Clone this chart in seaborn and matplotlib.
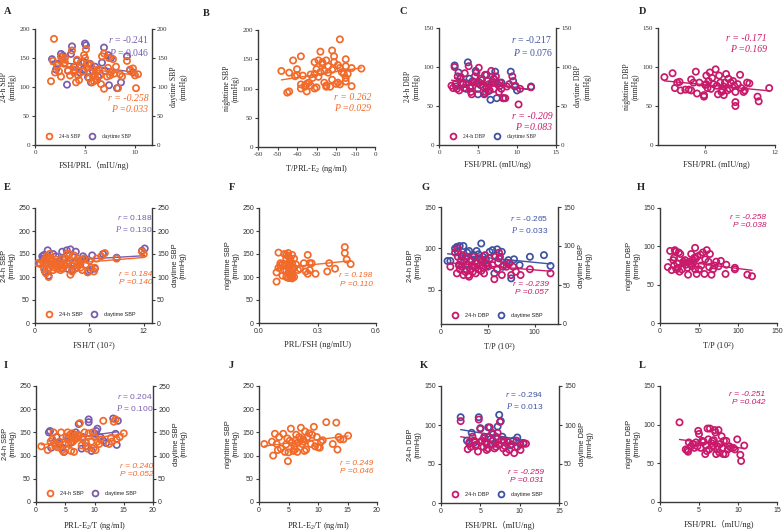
import numpy as np
import pandas as pd
import seaborn as sns
import matplotlib
matplotlib.use("Agg")
import matplotlib.pyplot as plt
from matplotlib.lines import Line2D

sns.set_theme(style="white")
plt.rcParams['font.family'] = ['Liberation Serif', 'Noto Sans CJK SC']
plt.rcParams['mathtext.fontset'] = 'custom'
plt.rcParams['mathtext.rm'] = 'Liberation Serif'
plt.rcParams['mathtext.it'] = 'Liberation Serif:italic'
plt.rcParams['axes.unicode_minus'] = False

ORANGE = '#F26A2A'
PURPLE = '#7A5CAF'
MAGENTA = '#C8196B'
BLUE = '#3E52A3'

# ---------------- data (x, y) ----------------
A_24h = [(1.9,183),(1.6,110),(1.8,145),(2.0,125),(2.2,137),(2.6,118),(2.6,152),(2.8,148),(2.9,140),(3.0,150),(3.3,128),(3.5,120),(3.7,163),(3.9,130),(3.9,125),(4.1,108),(4.2,147),(4.3,120),(4.4,112),(4.6,143),(4.8,127),(4.9,155),(5.0,150),(5.1,165),(5.2,133),(5.4,115),(5.5,125),(5.6,138),(5.7,108),(5.8,118),(5.9,110),(6.0,122),(6.1,113),(6.4,130),(6.5,120),(6.6,105),(6.7,153),(6.9,158),(6.9,97),(7.2,118),(7.3,133),(7.4,150),(7.5,120),(7.6,125),(7.8,148),(7.9,123),(8.1,135),(8.3,98),(8.5,122),(8.7,118),(9.2,145),(9.5,130),(9.8,132),(10.0,120),(10.1,98),(10.3,122),(3.0,142),(2.4,127),(4.0,135),(5.3,140),(6.2,128)]
A_day = [(1.7,148),(2.6,157),(2.8,154),(3.2,104),(3.6,157),(3.7,170),(3.9,135),(4.2,145),(4.5,125),(4.8,130),(5.0,175),(5.1,172),(5.3,117),(5.5,140),(5.8,127),(6.0,135),(6.3,118),(6.7,142),(6.9,168),(7.3,155),(7.4,103),(7.6,150),(8.2,98),(8.6,108),(9.2,153),(9.5,129),(9.8,125),(2.3,140),(4.0,128),(5.6,108),(6.2,112),(7.0,128),(3.3,128),(4.9,143),(2.1,130)]
B_night = [(-48,130),(-45,93),(-44,95),(-44,127),(-42,148),(-41,121),(-40,133),(-40,123),(-38,155),(-38,107),(-38,100),(-37,122),(-36,105),(-36,103),(-35,95),(-35,108),(-34,110),(-33,105),(-33,124),(-32,118),(-31,100),(-31,125),(-31,145),(-30,102),(-30,133),(-29,148),(-28,128),(-28,163),(-27,145),(-27,142),(-26,110),(-26,130),(-25,103),(-25,105),(-25,148),(-24,127),(-24,138),(-23,103),(-22,115),(-22,132),(-22,165),(-21,155),(-21,145),(-19,140),(-19,110),(-18,184),(-18,135),(-18,107),(-17,128),(-16,125),(-15,150),(-15,138),(-15,118),(-15,112),(-14,125),(-12,135),(-12,104),(-7,134),(-20,108),(-29,120)]
C_24h = [(1.6,76),(1.8,73),(2.0,100),(2.1,78),(2.3,72),(2.6,70),(2.7,85),(3.0,80),(3.2,73),(3.5,78),(3.8,101),(4.0,75),(4.1,68),(4.2,65),(4.4,80),(4.6,88),(4.8,93),(5.0,72),(5.1,99),(5.2,80),(5.4,85),(5.6,75),(5.8,65),(6.0,68),(6.2,82),(6.4,78),(6.7,95),(6.9,80),(7.0,72),(7.3,88),(7.5,78),(7.8,80),(8.0,72),(8.2,60),(8.5,60),(9.0,78),(9.4,88),(9.8,76),(10.2,52),(10.4,72),(11.8,74),(3.3,92),(4.9,80),(5.9,90),(6.5,70),(7.1,84),(8.7,75),(2.4,88),(6.1,73),(7.7,68)]
C_day = [(2.0,102),(2.5,93),(2.8,87),(3.7,106),(3.9,85),(4.3,82),(4.7,95),(5.0,65),(5.5,83),(5.9,66),(6.1,90),(6.6,58),(6.8,80),(7.2,94),(7.4,60),(7.8,76),(8.3,60),(9.2,94),(9.5,82),(10.0,70),(11.8,75),(2.2,75),(3.1,78),(4.0,73),(5.3,77),(6.3,69),(7.0,85),(8.0,80),(9.7,75),(3.5,72)]
D_night = [(2.5,87),(3.2,92),(3.4,73),(3.6,80),(3.8,81),(3.9,70),(4.3,71),(4.6,71),(4.8,84),(4.8,70),(5.0,80),(5.2,94),(5.3,66),(5.5,80),(5.9,62),(5.9,64),(6.0,77),(6.1,78),(6.1,89),(6.2,73),(6.3,82),(6.4,93),(6.5,72),(6.7,78),(6.9,97),(7.0,76),(7.1,65),(7.2,89),(7.3,80),(7.5,70),(7.6,64),(7.6,75),(7.7,80),(7.8,91),(7.9,70),(8.0,85),(8.1,72),(8.2,80),(8.4,82),(8.5,76),(8.6,55),(8.6,50),(8.6,68),(8.8,78),(9.0,90),(9.1,73),(9.3,68),(9.4,70),(9.6,80),(9.8,79),(10.5,62),(10.6,56),(11.5,73),(7.4,68),(6.6,86)]
E_24h = [(0.3,130),(0.6,128),(0.9,132),(1.0,117),(1.1,138),(1.2,125),(1.3,145),(1.4,135),(1.5,100),(1.5,118),(1.6,150),(1.7,142),(1.8,125),(1.9,135),(2.0,115),(2.1,128),(2.2,120),(2.3,138),(2.4,122),(2.5,118),(2.6,125),(2.7,130),(2.8,115),(2.9,120),(3.0,140),(3.1,118),(3.2,128),(3.3,125),(3.4,140),(3.5,150),(3.6,128),(3.7,135),(3.9,105),(4.0,125),(4.1,112),(4.3,147),(4.4,118),(4.6,132),(4.7,140),(4.8,125),(4.9,130),(5.0,120),(5.1,137),(5.2,115),(5.4,140),(5.6,127),(5.8,110),(6.0,135),(6.2,120),(6.5,112),(6.6,120),(6.8,140),(7.3,145),(7.7,152),(9.0,140),(11.8,155),(12.0,150),(3.8,150),(2.2,133),(1.2,108)]
E_day = [(0.5,130),(0.8,145),(1.0,148),(1.2,140),(1.4,158),(1.5,103),(1.7,135),(2.0,150),(2.5,128),(3.0,155),(3.2,140),(3.5,158),(3.9,160),(4.1,115),(4.5,155),(4.6,120),(4.9,135),(5.0,128),(5.3,145),(5.6,138),(5.9,112),(6.1,115),(6.3,147),(6.6,118),(7.5,150),(9.0,142),(11.8,157),(12.1,162),(2.8,125),(3.6,118),(1.1,112),(2.3,145),(4.3,130),(5.5,140),(0.9,140)]
F_night = [(0.09,110),(0.09,90),(0.10,153),(0.10,120),(0.11,125),(0.11,130),(0.12,103),(0.13,125),(0.13,150),(0.14,140),(0.14,115),(0.14,100),(0.15,152),(0.15,145),(0.15,130),(0.15,108),(0.15,120),(0.16,140),(0.16,135),(0.16,125),(0.16,115),(0.16,98),(0.17,148),(0.17,130),(0.17,110),(0.17,103),(0.17,97),(0.18,140),(0.18,120),(0.18,100),(0.14,148),(0.15,98),(0.16,105),(0.17,118),(0.13,113),(0.20,115),(0.21,118),(0.23,130),(0.24,112),(0.25,148),(0.25,107),(0.26,130),(0.26,115),(0.27,130),(0.29,107),(0.35,112),(0.36,130),(0.39,118),(0.44,165),(0.44,152),(0.45,138),(0.47,128),(0.19,127),(0.12,128)]
G_24h = [(10,78),(15,95),(17,70),(18,90),(18,100),(19,80),(20,75),(21,85),(22,78),(24,68),(25,85),(26,72),(27,90),(28,80),(29,68),(30,66),(31,75),(32,85),(33,80),(34,72),(35,90),(36,78),(38,82),(40,75),(41,88),(42,80),(43,73),(44,85),(45,77),(46,70),(48,82),(50,78),(52,88),(55,80),(57,63),(58,90),(60,75),(61,83),(63,90),(65,68),(67,80),(70,78),(73,82),(75,68),(77,78),(80,72),(85,68),(95,75),(117,70),(23,92),(37,70),(47,92),(62,95)]
G_day = [(7,85),(10,85),(15,100),(17,102),(18,96),(20,103),(22,90),(24,103),(26,88),(28,95),(30,97),(33,85),(35,92),(38,97),(40,93),(42,88),(43,106),(45,90),(48,87),(52,96),(55,98),(57,70),(60,99),(62,88),(65,96),(70,83),(72,86),(75,64),(78,87),(84,80),(95,90),(110,92),(117,79),(27,75),(37,85),(50,80),(66,78),(20,80)]
H_night = [(10,73),(13,94),(15,69),(17,82),(18,75),(18,85),(19,95),(20,93),(21,70),(22,78),(23,72),(24,92),(25,67),(26,90),(28,70),(30,80),(32,82),(33,76),(35,72),(36,63),(38,80),(39,77),(40,90),(41,74),(42,82),(43,79),(44,85),(45,98),(45,70),(46,84),(47,64),(48,87),(50,70),(52,89),(55,92),(57,64),(58,83),(60,95),(62,80),(63,73),(64,90),(66,63),(68,70),(70,75),(72,80),(75,74),(78,81),(84,64),(85,76),(96,72),(96,70),(112,63),(118,61),(31,78),(53,75)]
I_24h = [(0.9,120),(2.0,112),(2.5,130),(2.8,135),(3.0,150),(3.5,125),(3.7,118),(4.0,130),(4.3,150),(4.5,112),(4.7,108),(5.0,125),(5.2,140),(5.4,150),(5.5,135),(5.8,145),(6.0,110),(6.2,148),(6.3,130),(6.5,108),(6.8,140),(7.0,138),(7.2,145),(7.5,170),(7.8,122),(8.0,135),(8.3,150),(8.5,128),(8.8,115),(9.0,148),(9.5,130),(9.8,115),(10.0,140),(10.2,112),(10.5,130),(10.8,125),(11.0,135),(11.5,175),(12.5,125),(13.0,130),(13.3,173),(13.6,178),(13.8,135),(14.3,140),(15.0,148),(6.7,135),(5.6,125),(8.7,120),(9.7,150),(3.3,120),(12.8,138),(7.3,142)]
I_day = [(2.2,150),(2.4,153),(2.6,117),(4.5,117),(4.8,108),(6.5,145),(7.3,168),(8.0,140),(8.5,120),(9.0,178),(9.0,172),(10.0,148),(10.3,153),(10.5,158),(11.0,140),(13.2,180),(13.6,147),(13.8,123),(14.0,175),(5.5,138),(6.0,128),(3.5,140),(12.0,127),(7.8,115),(11.5,132),(4.0,125),(9.5,110),(6.8,150)]
J_night = [(0.9,125),(2.2,130),(2.4,100),(2.7,147),(3.0,125),(3.2,112),(3.4,140),(3.7,115),(4.1,147),(4.4,108),(4.6,124),(4.8,137),(4.9,88),(5.0,107),(5.2,132),(5.4,158),(5.6,128),(5.8,110),(6.0,120),(6.2,133),(6.3,145),(6.5,108),(6.6,128),(6.8,140),(7.0,135),(7.1,160),(7.3,125),(7.5,135),(7.7,110),(7.8,152),(8.0,113),(8.2,140),(8.5,148),(8.8,125),(9.0,145),(9.3,162),(9.5,120),(9.8,140),(10.0,118),(10.3,117),(10.5,130),(10.8,133),(11.4,172),(12.5,125),(13.1,171),(13.3,113),(13.5,140),(13.8,135),(14.3,135),(15.1,143),(6.1,113),(7.6,130)]
K_24h = [(2.5,105),(3.4,69),(3.6,78),(3.8,72),(4.0,85),(4.2,80),(4.5,75),(4.7,66),(4.8,107),(5.0,95),(5.2,80),(5.4,72),(5.6,78),(5.8,68),(6.0,85),(6.2,97),(6.4,75),(6.6,80),(6.8,70),(7.0,85),(7.2,90),(7.4,75),(7.5,104),(7.7,80),(7.9,70),(8.1,73),(8.3,65),(8.5,78),(8.7,68),(9.0,75),(9.3,64),(9.6,80),(10.1,68),(10.5,76),(10.8,76),(6.0,70),(7.0,72),(5.5,85),(8.0,80),(6.5,90),(4.4,73),(9.7,72)]
K_day = [(2.5,110),(3.3,80),(3.9,90),(4.8,110),(5.0,96),(5.5,83),(6.0,97),(6.3,82),(6.9,76),(7.2,98),(7.4,113),(7.6,105),(8.0,80),(8.5,78),(9.2,80),(9.7,84),(10.5,77),(4.3,78),(5.8,75),(7.8,85),(6.6,88),(3.6,76),(8.8,74),(10.1,75)]
L_night = [(2.5,103),(3.3,68),(3.5,67),(3.6,65),(3.7,77),(4.0,72),(4.2,75),(4.4,70),(4.6,77),(4.8,72),(4.9,92),(5.0,88),(5.2,70),(5.4,79),(5.6,78),(5.8,62),(5.9,73),(6.0,66),(6.1,95),(6.2,81),(6.3,68),(6.4,95),(6.6,76),(6.7,79),(6.9,80),(7.0,93),(7.1,90),(7.2,62),(7.3,68),(7.4,72),(7.5,93),(7.6,64),(7.7,75),(7.9,85),(8.0,70),(8.1,62),(8.2,79),(8.4,62),(8.5,79),(8.7,68),(8.9,72),(9.1,70),(9.4,70),(9.6,68),(9.9,81),(10.3,61),(10.4,53),(10.8,73),(6.8,72),(5.5,78)]

W, H = 783, 532
fig = plt.figure(figsize=(W/100, H/100), dpi=100)

SERIF = ['Liberation Serif', 'Noto Sans CJK SC']
SANS = ['Liberation Sans', 'Noto Sans CJK SC']

def px_axes(l, t, r, b):
    return fig.add_axes([l/W, 1 - b/H, (r-l)/W, (b-t)/H])

def draw(ax, data, color, z):
    df = pd.DataFrame(data, columns=['x', 'y'])
    sns.scatterplot(data=df, x='x', y='y', ax=ax, marker='o', s=20,
                    facecolor='none', edgecolor=color, linewidth=1.25, zorder=z)
    sns.regplot(data=df, x='x', y='y', ax=ax, scatter=False, ci=None, truncate=True,
                color=color, line_kws=dict(linewidth=1.0, zorder=z+1))

def style(ax, xlim, xticks, ylim, yticks, xlabel, ylabel, tickfam, ylabfam, right=None, rylim=None, rticks=None):
    serif_row = tickfam is SERIF
    tsz = 5.0 if serif_row else 5.0
    lsz = 5.6 if serif_row else 5.4
    ax.set_xlim(*xlim); ax.set_ylim(*ylim)
    ax.set_xticks(xticks); ax.set_yticks(yticks)
    ax.set_xlabel(xlabel, fontsize=6.0, family=SERIF, labelpad=4)
    ax.set_ylabel(ylabel, fontsize=lsz, family=ylabfam, labelpad=2, linespacing=1.15)
    for s in ['top', 'right']:
        ax.spines[s].set_visible(False)
    for s in ['left', 'bottom']:
        ax.spines[s].set_color('#3a3a3a'); ax.spines[s].set_linewidth(1.0)
    ax.tick_params(axis='both', which='both', direction='out', length=2.5, width=0.8,
                   color='#3a3a3a', labelsize=tsz, pad=1.2, left=True, bottom=True)
    for t in ax.get_xticklabels() + ax.get_yticklabels():
        t.set_family(tickfam); t.set_color('#333333')
    ax.grid(False)
    ax.set_facecolor('white')
    if right is not None:
        ax2 = ax.twinx()
        ax2.set_ylim(*(rylim if rylim else ylim))
        ax2.set_yticks(rticks if rticks is not None else yticks)
        ax2.set_ylabel(right, fontsize=lsz, family=ylabfam, rotation=90, labelpad=2, linespacing=1.15)
        for s in ['top', 'left', 'bottom']:
            ax2.spines[s].set_visible(False)
        ax2.spines['right'].set_color('#3a3a3a'); ax2.spines['right'].set_linewidth(1.0)
        ax2.tick_params(axis='y', direction='out', length=2.5, width=0.8, color='#3a3a3a',
                        labelsize=tsz, pad=1.2, right=True)
        for t in ax2.get_yticklabels():
            t.set_family(tickfam); t.set_color('#333333')
        ax2.grid(False)

def stats(ax, x, y, r, p, color, fam, top):
    size = 7.0 if fam is SERIF else 6.0
    if top:
        txt = f"$r$ = {r}\n$P$ = {p}"
        ax.text(x, y, txt, transform=ax.transAxes, ha='right', va='top', color=color,
                fontsize=size, family=fam, linespacing=1.25)
    else:
        txt = f"r = {r}\nP ={p}"
        ax.text(x, y, txt, transform=ax.transAxes, ha='right', va='top', color=color,
                fontsize=size, family=fam, style='italic', linespacing=1.25)

def legend(ax, c1, l1, c2, l2, fam):
    h = [Line2D([], [], marker='o', ls='none', mfc='none', mec=c1, mew=1.3, ms=4.2),
         Line2D([], [], marker='o', ls='none', mfc='none', mec=c2, mew=1.3, ms=4.2)]
    ax.legend(h, [l1, l2], loc='lower left', bbox_to_anchor=(0.04, 0.02), ncol=2,
              frameon=False, prop=dict(family=fam, size=4.0), handletextpad=0.8,
              columnspacing=1.2, borderaxespad=0.2)

def letter(x, y, s):
    fig.text(x/W, 1 - y/H, s, fontsize=7.5, fontweight='bold', family=SERIF, va='center', ha='left')

# ---------- A ----------
ax = px_axes(35, 29, 152, 145)
draw(ax, A_day, PURPLE, 3); draw(ax, A_24h, ORANGE, 5)
style(ax, (0, 11.7), [0, 5, 10], (0, 200), [0, 50, 100, 150, 200], "FSH/PRL（mIU/ng)",
      "24-h SBP\n(mmHg)", SERIF, SERIF, right="daytime SBP\n(mmHg)")
stats(ax, 0.97, 0.96, "-0.241", "0.046", PURPLE, SERIF, True)
stats(ax, 0.97, 0.44, "-0.258", "0.033", ORANGE, SERIF, False)
legend(ax, ORANGE, "24-h SBP", PURPLE, "daytime SBP", SERIF)
letter(4, 12, "A")

# ---------- B ----------
ax = px_axes(258, 30, 375, 147)
draw(ax, B_night, ORANGE, 5)
style(ax, (-60, 0), [-60, -50, -40, -30, -20, -10, 0], (0, 200), [0, 50, 100, 150, 200],
      "T/PRL-E$_2$ (ng/ml)", "nighttime SBP\n(mmHg)", SERIF, SERIF)
stats(ax, 0.97, 0.46, "0.262", "0.029", ORANGE, SERIF, False)
letter(203, 13, "B")

# ---------- C ----------
ax = px_axes(439, 28, 556, 145)
draw(ax, C_day, BLUE, 3); draw(ax, C_24h, MAGENTA, 5)
style(ax, (0, 15), [0, 5, 10, 15], (0, 150), [0, 50, 100, 150], "FSH/PRL (mIU/ng)",
      "24-h DBP\n(mmHg)", SERIF, SERIF, right="daytime DBP\n(mmHg)")
stats(ax, 0.97, 0.95, "-0.217", "0.076", BLUE, SERIF, True)
stats(ax, 0.97, 0.28, "-0.209", "0.083", MAGENTA, SERIF, False)
legend(ax, MAGENTA, "24-h DBP", BLUE, "daytime SBP", SERIF)
letter(400, 12, "C")

# ---------- D ----------
ax = px_axes(658, 28, 775, 145)
draw(ax, D_night, MAGENTA, 5)
style(ax, (1.95, 12), [6, 12], (0, 150), [0, 50, 100, 150], "FSH/PRL (mIU/ng)",
      "nighttime DBP\n(mmHg)", SERIF, SERIF)
stats(ax, 0.93, 0.95, "-0.171", "0.169", MAGENTA, SERIF, False)
letter(639, 12, "D")

# ---------- E ----------
ax = px_axes(35, 208, 152, 323)
draw(ax, E_day, PURPLE, 3); draw(ax, E_24h, ORANGE, 5)
style(ax, (0, 12.9), [0, 6, 12], (0, 250), [0, 50, 100, 150, 200, 250], "FSH/T (10$^2$)",
      "24-h SBP\n(mmHg)", SANS, SANS, right="daytime SBP\n(mmHg)")
stats(ax, 1.0, 0.96, "0.188", "0.130", PURPLE, SANS, True)
stats(ax, 1.0, 0.45, "0.184", "0.140", ORANGE, SANS, False)
legend(ax, ORANGE, "24-h SBP", PURPLE, "daytime SBP", SANS)
letter(4, 188, "E")

# ---------- F ----------
ax = px_axes(259, 208, 376, 323)
draw(ax, F_night, ORANGE, 5)
style(ax, (0, 0.6), [0.0, 0.3, 0.6], (0, 250), [0, 50, 100, 150, 200, 250],
      "PRL/FSH (ng/mIU)", "nighttime SBP\n(mmHg)", SANS, SANS)
ax.set_xticklabels(["0.0", "0.3", "0.6"], family=SANS)
stats(ax, 0.97, 0.44, "0.198", "0.110", ORANGE, SANS, False)
letter(229, 188, "F")

# ---------- G ----------
ax = px_axes(441, 207, 558, 324)
draw(ax, G_day, BLUE, 3); draw(ax, G_24h, MAGENTA, 5)
style(ax, (0, 125), [0, 50, 100], (9, 150), [50, 100, 150], "T/P (10$^2$)",
      "24-h DBP\n(mmHg)", SANS, SANS, right="daytime DBP\n(mmHg)", rylim=(0, 150), rticks=[0, 50, 100, 150])
stats(ax, 0.92, 0.94, "-0.265", "0.033", BLUE, SANS, True)
stats(ax, 0.92, 0.37, "-0.239", "0.057", MAGENTA, SANS, False)
legend(ax, MAGENTA, "24-h DBP", BLUE, "daytime SBP", SANS)
letter(422, 188, "G")

# ---------- H ----------
ax = px_axes(660, 208, 777, 323)
draw(ax, H_night, MAGENTA, 5)
style(ax, (0, 150), [0, 50, 100, 150], (0, 150), [0, 50, 100, 150], "T/P (10$^2$)",
      "nighttime DBP\n(mmHg)", SANS, SANS)
stats(ax, 0.91, 0.95, "-0.258", "0.038", MAGENTA, SANS, False)
letter(637, 188, "H")

# ---------- I ----------
ax = px_axes(36, 386, 153, 502)
draw(ax, I_day, PURPLE, 3); draw(ax, I_24h, ORANGE, 5)
style(ax, (0, 20), [0, 5, 10, 15, 20], (0, 250), [0, 50, 100, 150, 200, 250],
      "PRL-E$_2$/T (ng/ml)", "24-h SBP\n(mmHg)", SANS, SANS, right="daytime SBP\n(mmHg)")
stats(ax, 1.0, 0.95, "0.204", "0.100", PURPLE, SANS, True)
stats(ax, 1.0, 0.34, "0.240", "0.052", ORANGE, SANS, False)
legend(ax, ORANGE, "24-h SBP", PURPLE, "daytime SBP", SANS)
letter(4, 366, "I")

# ---------- J ----------
ax = px_axes(259, 386, 377, 502)
draw(ax, J_night, ORANGE, 5)
style(ax, (0, 20), [0, 5, 10, 15, 20], (0, 250), [0, 50, 100, 150, 200, 250],
      "PRL-E$_2$/T (ng/ml)", "nighttime SBP\n(mmHg)", SANS, SANS)
stats(ax, 0.97, 0.36, "0.249", "0.046", ORANGE, SANS, False)
letter(229, 366, "J")

# ---------- K ----------
ax = px_axes(441, 386, 559, 503)
draw(ax, K_day, BLUE, 3); draw(ax, K_24h, MAGENTA, 5)
style(ax, (0, 15), [0, 5, 10, 15], (0, 150), [0, 50, 100, 150], "FSH/PRL（mIU/ng)",
      "24-h DBP\n(mmHg)", SANS, SANS, right="daytime DBP\n(mmHg)")
stats(ax, 0.87, 0.97, "-0.294", "0.013", BLUE, SANS, True)
stats(ax, 0.87, 0.29, "-0.259", "0.031", MAGENTA, SANS, False)
legend(ax, MAGENTA, "24-h DBP", BLUE, "daytime SBP", SANS)
letter(420, 365, "K")

# ---------- L ----------
ax = px_axes(660, 386, 777, 502)
draw(ax, L_night, MAGENTA, 5)
style(ax, (0, 15), [0, 5, 10, 15], (0, 150), [0, 50, 100, 150], "FSH/PRL（mIU/ng)",
      "nighttime DBP\n(mmHg)", SANS, SANS)
stats(ax, 0.90, 0.96, "-0.251", "0.042", MAGENTA, SANS, False)
letter(639, 366, "L")

fig.savefig("out.png", dpi=100, facecolor='white')
